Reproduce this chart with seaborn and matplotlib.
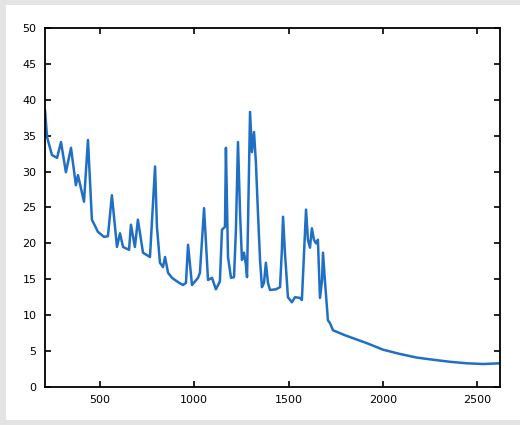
import pandas as pd
import matplotlib
matplotlib.use("Agg")
import matplotlib.pyplot as plt
import seaborn as sns
from matplotlib.patches import Rectangle

sns.set_style("ticks")
plt.rcParams["font.family"] = ["DejaVu Sans"]

# ====================================
# DATA
# ====================================

x_values = [
    208, 219, 245, 272, 293, 319, 346, 372, 383, 415, 436, 457, 489, 521,
    542, 563, 590, 606, 622, 654, 664, 685, 701, 728, 765, 792, 802, 818,
    834, 845, 861, 882, 914, 940, 956, 967, 988, 1020, 1030, 1052, 1073,
    1094, 1115, 1136, 1147, 1163, 1168, 1179, 1195, 1211, 1221, 1232, 1243,
    1253, 1264, 1274, 1280, 1296, 1306, 1317, 1327, 1338, 1349, 1359, 1370,
    1380, 1391, 1402, 1433, 1455, 1465, 1471, 1481, 1492, 1497, 1518, 1534,
    1561, 1571, 1593, 1603, 1614, 1624, 1635, 1646, 1656, 1667, 1678, 1683,
    1693, 1704, 1709, 1720, 1736, 1800, 1916, 2001, 2091, 2180, 2266, 2360,
    2447, 2532, 2622,
]

y_values = [
    38.6, 34.8, 32.3, 31.9, 34.1, 29.9, 33.3, 28.1, 29.5, 25.8, 34.4, 23.3,
    21.6, 20.9, 21.0, 26.7, 19.5, 21.4, 19.5, 19.1, 22.6, 19.5, 23.3, 18.7,
    18.1, 30.7, 22.3, 17.3, 16.7, 18.1, 15.9, 15.2, 14.6, 14.2, 14.5, 19.8,
    14.2, 15.2, 15.9, 24.9, 14.9, 15.2, 13.6, 14.7, 21.9, 22.3, 33.3, 18.1,
    15.2, 15.3, 21.9, 34.1, 24.2, 17.7, 18.7, 17.0, 15.3, 38.3, 32.7, 35.5,
    31.3, 24.2, 17.7, 13.9, 14.5, 17.3, 14.5, 13.5, 13.6, 13.9, 19.1, 23.7,
    18.7, 14.5, 12.5, 11.8, 12.5, 12.4, 12.1, 24.7, 20.5, 19.4, 22.1, 20.5,
    20.0, 20.5, 12.4, 14.9, 18.7, 14.9, 11.1, 9.3, 8.9, 7.9, 7.2, 6.1, 5.2,
    4.6, 4.1, 3.8, 3.5, 3.3, 3.2, 3.3,
]

x_ticks = [500, 1000, 1500, 2000, 2500]
y_ticks = [0, 5, 10, 15, 20, 25, 30, 35, 40, 45, 50]

df = pd.DataFrame({"x": x_values, "y": y_values})

# ====================================
# FIGURE
# ====================================

fig = plt.figure(figsize=(5.2, 4.25), dpi=100)
fig.patch.set_facecolor("#e4e4e4")
fig.patches.append(
    Rectangle((0.0115, 0.0118), 0.99, 0.976,
              transform=fig.transFigure, facecolor="white",
              edgecolor="none", zorder=-10)
)

ax = fig.add_axes([0.0865, 0.0894, 0.875, 0.845])
ax.set_zorder(5)

sns.lineplot(data=df, x="x", y="y", ax=ax, color="#1f6fc4",
             linewidth=1.8)

ax.set_xlim(208, 2622)
ax.set_ylim(0, 50)
ax.set_xticks(x_ticks)
ax.set_yticks(y_ticks)
ax.set_xlabel("")
ax.set_ylabel("")

for side in ["top", "right", "bottom", "left"]:
    ax.spines[side].set_visible(True)
    ax.spines[side].set_color("black")
    ax.spines[side].set_linewidth(1.3)

ax.tick_params(direction="in", top=True, right=True, length=4,
               width=1.2, labelsize=8, colors="black", pad=6)

plt.savefig("out.png", dpi=100, facecolor=fig.get_facecolor())
plt.close()
